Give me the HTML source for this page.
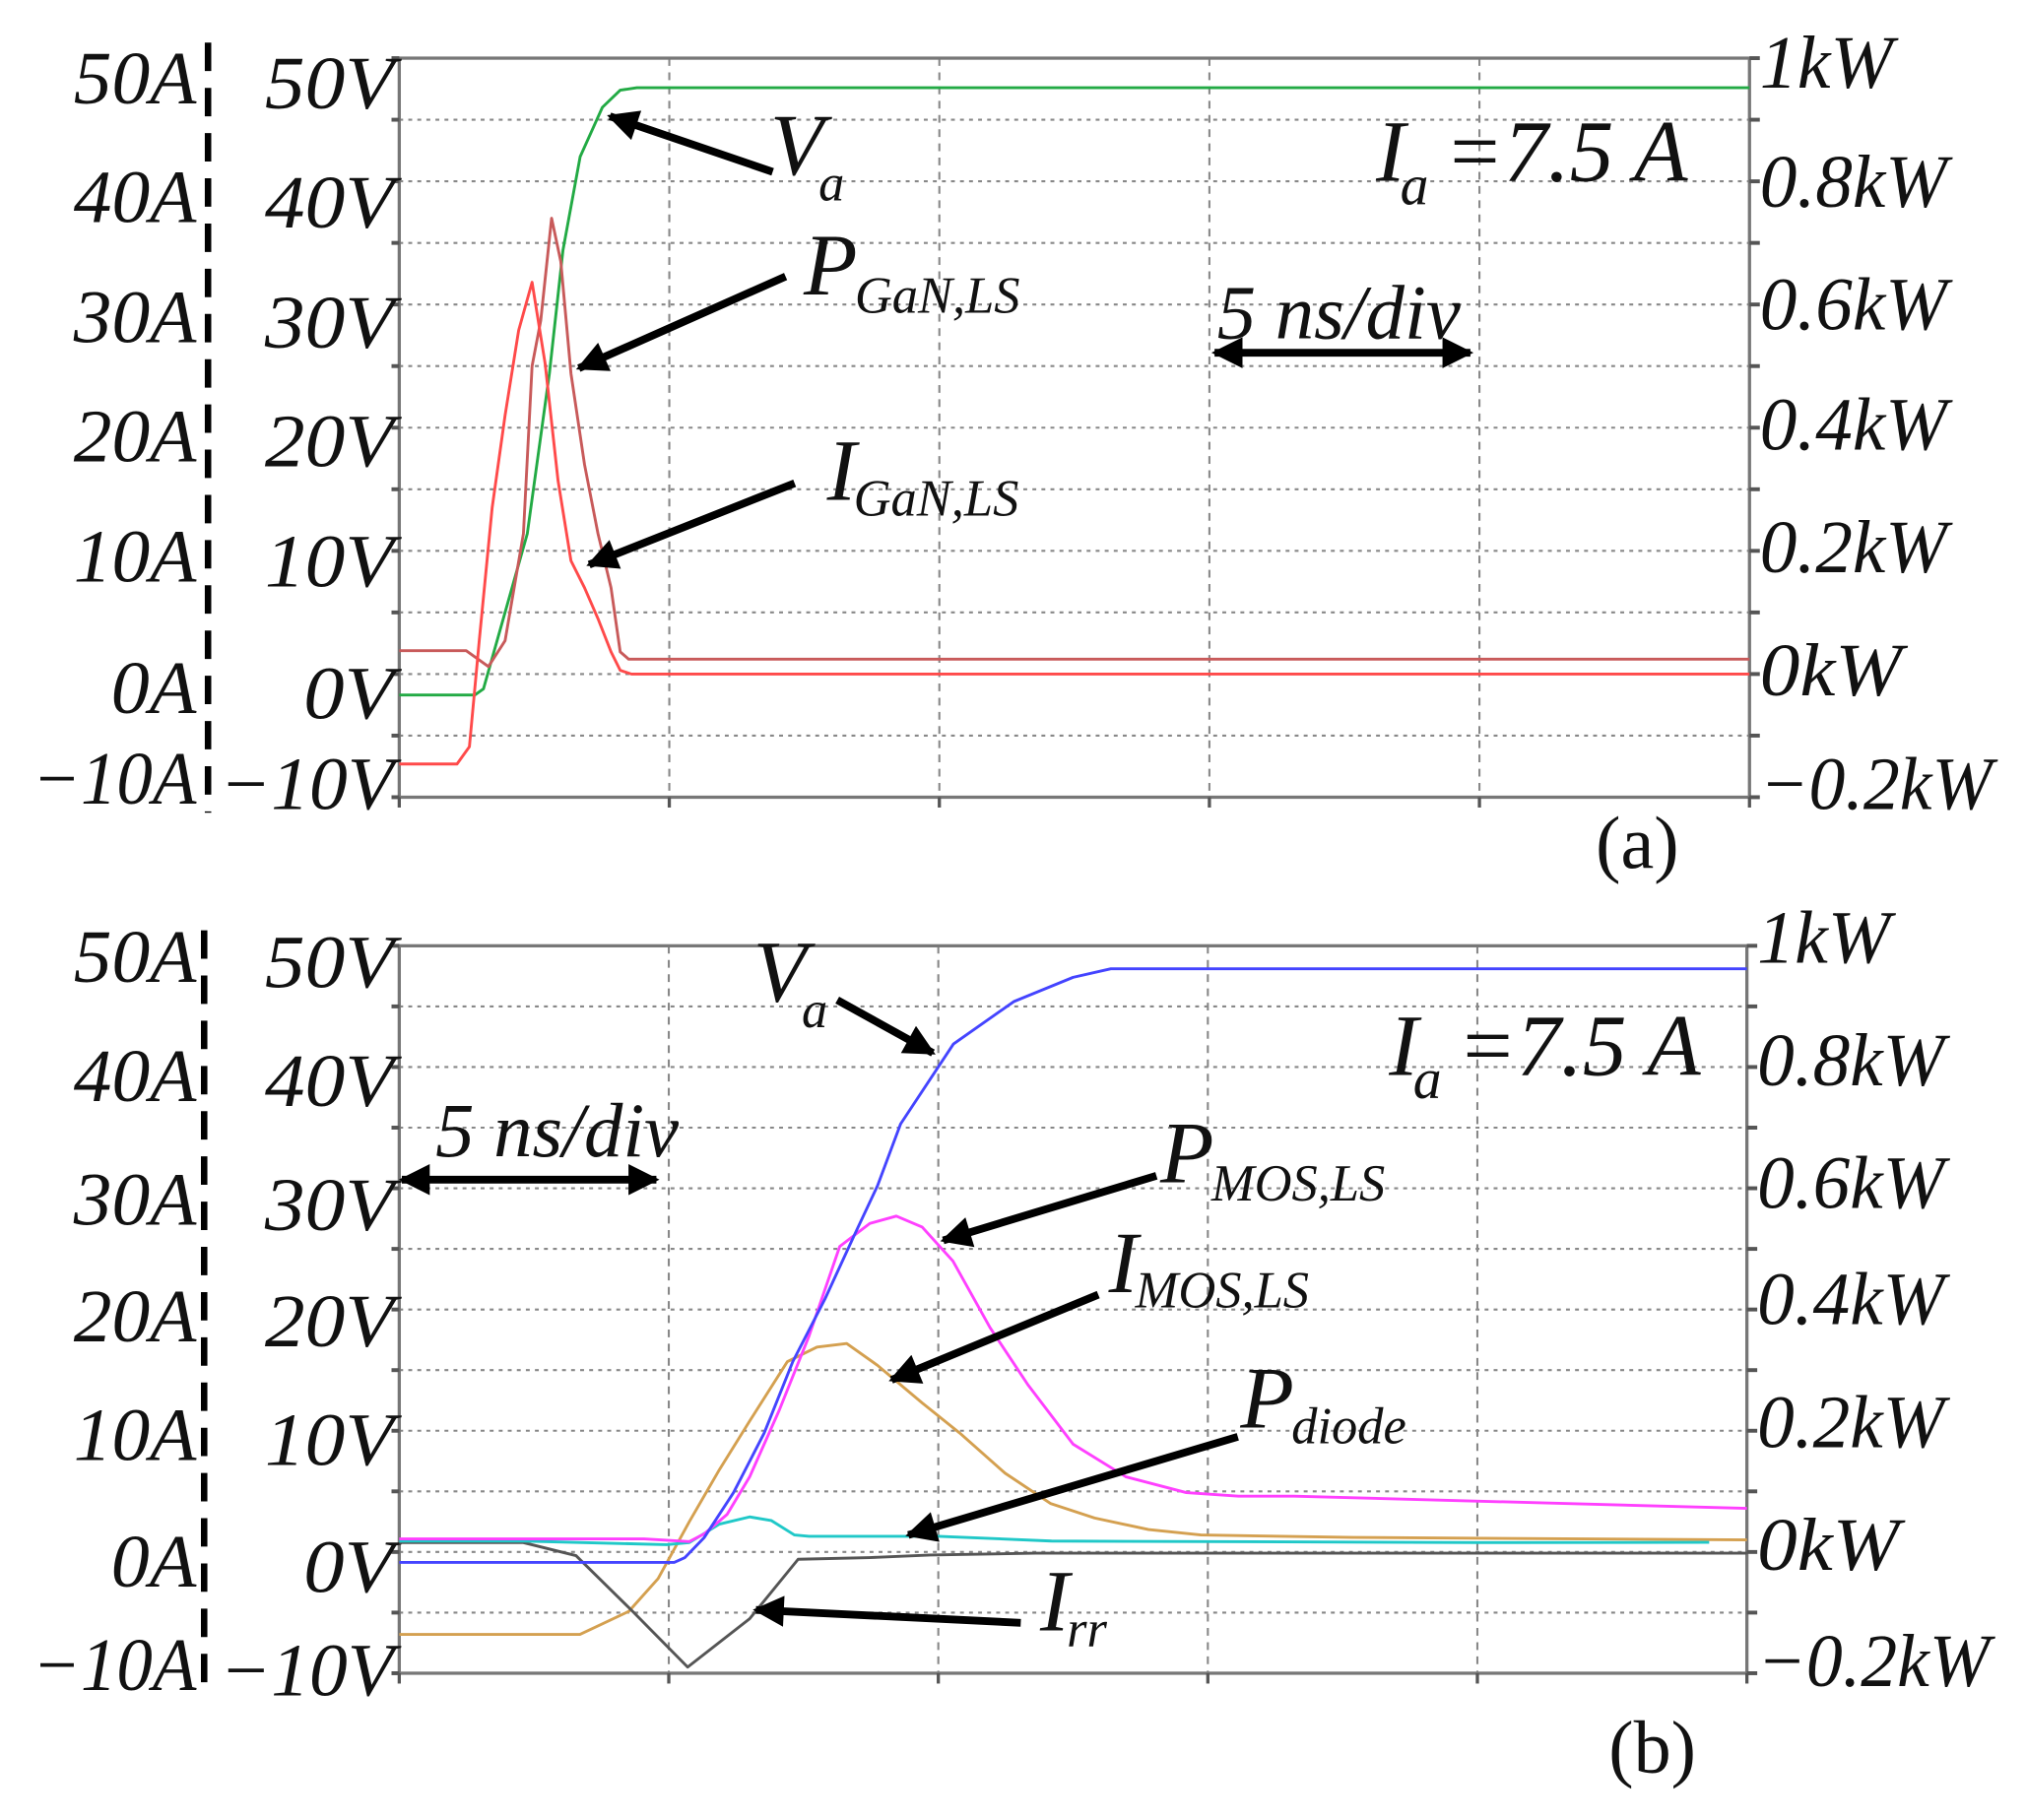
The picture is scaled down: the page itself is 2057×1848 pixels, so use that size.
<!DOCTYPE html>
<html><head><meta charset="utf-8"><style>
html,body{margin:0;padding:0;background:#fff}
svg{display:block}
text{font-family:"Liberation Serif",serif;font-style:italic;fill:#111}
</style></head><body>
<svg id="fig" width="2057" height="1848" viewBox="0 0 1568 1408.6" preserveAspectRatio="none" xmlns="http://www.w3.org/2000/svg">
<defs>
<marker id="ah" viewBox="0 0 10 10" refX="9" refY="5" markerWidth="5" markerHeight="4" orient="auto-start-reverse" markerUnits="strokeWidth"><path d="M0,0 L10,5 L0,10 z" fill="#000"/></marker>
</defs>
<g id="pa"></g>
<g id="pb"></g>
</svg>
<script>
// ---- data (time in ns, values in V-equivalent units: 1A=1V, 1kW=50V) ----
const aVaT=[0,1.4,1.56,2.37,2.78,3.03,3.35,3.76,4.09,4.4,25];
const aVaV=[-1.7,-1.7,-1.2,11.4,24.4,34.4,42,46,47.4,47.6,47.6];
const aPT=[0,1.24,1.65,1.96,2.3,2.46,2.62,2.82,2.99,3.18,3.43,3.68,3.92,4.09,4.25,25];
const aPV=[1.9,1.9,0.6,2.7,11.4,25,28.7,37,33.5,24.4,17,11.4,7,1.8,1.2,1.2];
const aIT=[0,1.07,1.3,1.48,1.72,1.96,2.21,2.46,2.7,2.94,3.18,3.43,3.68,3.92,4.09,4.3,25];
const aIV=[-7.3,-7.3,-5.9,2.7,13.5,21,27.9,31.8,25.2,15.7,9.2,7,4.5,1.8,0.3,0,0];
const bVaT=[0,5.1,5.3,5.66,6.2,6.77,7.3,7.9,8.45,8.87,9.3,10.28,11.4,12.5,13.2,25];
const bVaV=[-0.86,-0.86,-0.46,1.2,4.9,9.8,15.7,20.9,26.2,30.2,35.3,41.9,45.4,47.4,48.1,48.1];
const bPT=[0,4.54,5.38,5.66,6.08,6.5,7.05,7.6,8.17,8.73,9.22,9.7,10.27,10.96,11.66,12.5,13.48,14.6,15.57,16.6,25];
const bPV=[1.08,1.08,0.86,1.5,3.1,6.2,11.7,17.8,25.2,27.1,27.7,26.8,24,18.5,13.8,8.9,6.2,4.9,4.6,4.6,3.6];
const bIT=[0,3.35,4.26,4.8,5.38,5.94,6.5,7.2,7.75,8.3,8.87,9.7,10.4,11.24,12.08,12.9,13.9,14.87,17.7,25];
const bIV=[-6.8,-6.8,-4.9,-2.2,2.5,6.8,10.8,15.7,16.9,17.2,15.4,12.3,9.8,6.5,4,2.8,1.85,1.4,1.2,1.0];
const bDT=[0,2.3,4.96,5.38,5.94,6.5,6.9,7.33,7.6,10,12.1,20,24.3];
const bDV=[0.9,0.9,0.6,0.77,2.3,2.9,2.6,1.4,1.3,1.3,0.9,0.77,0.8];
const bRT=[0,2.3,3.28,4.33,5.35,6.5,7.4,8.73,9.85,11.8,25];
const bRV=[0.77,0.77,-0.3,-4.9,-9.5,-5.5,-0.6,-0.46,-0.25,-0.1,-0.1];
const leftA=["50A","40A","30A","20A","10A","0A","\u221210A"];
const leftV=["50V","40V","30V","20V","10V","0V","\u221210V"];
const rightP=["1kW","0.8kW","0.6kW","0.4kW","0.2kW","0kW","\u22120.2kW"];

const NS="http://www.w3.org/2000/svg";
function mk(tag,attrs,parent){const e=document.createElementNS(NS,tag);for(const k in attrs)e.setAttribute(k,attrs[k]);parent.appendChild(e);return e;}

function panel(g,P){
  const x=t=>P.x0+(P.x1-P.x0)*t/25;
  const y=v=>P.y1-(P.y1-P.y0)*(v+10)/60;
  // grid
  for(let i=1;i<12;i++){const l=mk('line',{x1:P.x0,x2:P.x1,y1:y(-10+5*i),y2:y(-10+5*i),stroke:'#888','stroke-width':1.6,'stroke-dasharray':'3,4'},g);
    }
  for(let i=1;i<5;i++){const l=mk('line',{x1:x(5*i),x2:x(5*i),y1:P.y0,y2:P.y1,stroke:'#888','stroke-width':1.6,'stroke-dasharray':'6,5'},g);
    }
  // frame
  const f=mk('rect',{x:P.x0,y:P.y0,width:P.x1-P.x0,height:P.y1-P.y0,fill:'none',stroke:'#777','stroke-width':2.5},g);
  
  for(let i=0;i<=12;i++){mk('line',{x1:P.x0-6,x2:P.x0,y1:y(-10+5*i),y2:y(-10+5*i),stroke:'#555','stroke-width':3},g);
    mk('line',{x1:P.x1,x2:P.x1+8,y1:y(-10+5*i),y2:y(-10+5*i),stroke:'#555','stroke-width':3},g);}
  for(let i=0;i<=5;i++){mk('line',{x1:x(5*i),x2:x(5*i),y1:P.y1,y2:P.y1+8,stroke:'#555','stroke-width':2.5},g);}
  // dashed current axis line
  const d=mk('line',{x1:P.dx,x2:P.dx,y1:P.y0-12,y2:P.y1+12,stroke:'#000','stroke-width':5,'stroke-dasharray':'22,13'},g);
  
  // labels
  for(let i=0;i<7;i++){
    let t=mk('text',{x:152,y:P.lb[i],'font-size':58,'text-anchor':'end',textLength:leftA[i].length>3?127:(leftA[i].length>2?95:66),lengthAdjust:'spacingAndGlyphs'},g);
    t.textContent=leftA[i];
    t=mk('text',{x:305,y:P.lb[i]+4,'font-size':58,'text-anchor':'end',textLength:leftV[i].length>3?135:(leftV[i].length>2?100:70),lengthAdjust:'spacingAndGlyphs'},g);
    t.textContent=leftV[i];
    t=mk('text',{x:P.x1+8,y:P.rb[i],'font-size':58,textLength:rightP[i].length>5?180:(rightP[i].length>3?145:(rightP[i].length>3?120:103)),lengthAdjust:'spacingAndGlyphs'},g);
    if(rightP[i]==="0kW")t.setAttribute('textLength',110);
    t.textContent=rightP[i];
  }
  // series
  P.series.forEach(s=>{
    const pts=s.t.map((tt,i)=>x(tt).toFixed(1)+','+y(s.v[i]).toFixed(1)).join(' ');
    const pl=mk('polyline',{points:pts,fill:'none',stroke:s.c,'stroke-width':2.2,'stroke-linejoin':'round'},g);
    
  });
}
function arrow(g,x1,y1,x2,y2,name,both){
  const a=mk('line',{x1,y1,x2,y2,stroke:'#000','stroke-width':6,'marker-end':'url(#ah)'},g);
  if(both)a.setAttribute('marker-start','url(#ah)');
  
}
function label(g,x,y,main,sub,name,size,subsize,dx,dy){
  const t=mk('text',{x,y,'font-size':size||66},g);
  
  t.appendChild(document.createTextNode(main));
  if(sub){const s=mk('tspan',{'font-size':subsize||42,dx:dx||2,dy:dy||16},t);s.textContent=sub;}
  return t;
}
const ga=document.getElementById('pa'), gb=document.getElementById('pb');
panel(ga,{x0:309,x1:1354,y0:45,y1:617,dx:161,
  lb:[80,172,265,357,450,552,622],rb:[68,160,255,348,443,538,626],
  series:[{t:aVaT,v:aVaV,c:'#22aa44',n:'va-curve'},{t:aPT,v:aPV,c:'#c85a5a',n:'p-gan-curve'},{t:aIT,v:aIV,c:'#ff4a4a',n:'i-gan-curve'}]});
panel(gb,{x0:309,x1:1352,y0:732,y1:1295,dx:158,
  lb:[760,852,948,1038,1130,1228,1308],rb:[745,840,935,1025,1120,1215,1305],
  series:[{t:bIT,v:bIV,c:'#d4a050',n:'i-mos-curve'},{t:bRT,v:bRV,c:'#555555',n:'irr-curve'},{t:bDT,v:bDV,c:'#20c8c8',n:'p-diode-curve'},{t:bPT,v:bPV,c:'#ff40ff',n:'p-mos-curve'},{t:bVaT,v:bVaV,c:'#4444ff',n:'va-curve'}]});
// panel a annotations
label(ga,596,135,'V','a','va-label',68,40,-4,20);
arrow(ga,598,133,472,90,'va-arrow');
label(ga,622,228,'P','GaN,LS','p-gan-label',68,40,-2,14);
arrow(ga,608,214,448,285,'p-gan-arrow');
label(ga,640,387,'I','GaN,LS','i-gan-label',68,40,-2,12);
arrow(ga,615,374,456,437,'i-gan-arrow');
label(ga,1065,140,'I','a','ia-label-a',68,44,-4,18).appendChild(document.createTextNode(''));
{const t=mk('text',{x:1118,y:140,'font-size':68},ga);t.textContent='=7.5 A';}
{const t=mk('text',{x:942,y:262,'font-size':60},ga);t.textContent='5 ns/div';}
arrow(ga,940,273,1138,273,'timescale-arrow-a',true);
{const t=mk('text',{x:1235,y:672,'font-size':58,style:'font-style:normal'},ga);t.textContent='(a)';}
// panel b annotations
label(gb,583,775,'V','a','va-label-b',68,40,-4,20);
arrow(gb,648,774,722,815,'va-arrow-b');
label(gb,1075,832,'I','a','ia-label-b',68,44,-4,18);
{const t=mk('text',{x:1128,y:832,'font-size':68},gb);t.textContent='=7.5 A';}
{const t=mk('text',{x:337,y:895,'font-size':60},gb);t.textContent='5 ns/div';}
arrow(gb,311,913,508,913,'timescale-arrow-b',true);
label(gb,898,915,'P','MOS,LS','p-mos-label',68,40,-2,14);
arrow(gb,895,910,730,960,'p-mos-arrow');
label(gb,858,1000,'I','MOS,LS','i-mos-label',68,40,-2,12);
arrow(gb,850,1002,690,1068,'i-mos-arrow');
label(gb,960,1105,'P','diode','p-diode-label',68,40,-2,12);
arrow(gb,958,1112,703,1188,'p-diode-arrow');
label(gb,805,1262,'I','rr','irr-label',68,40,-2,12);
arrow(gb,790,1256,585,1246,'irr-arrow');
{const t=mk('text',{x:1245,y:1372,'font-size':58,style:'font-style:normal'},gb);t.textContent='(b)';}
</script>
</body></html>
